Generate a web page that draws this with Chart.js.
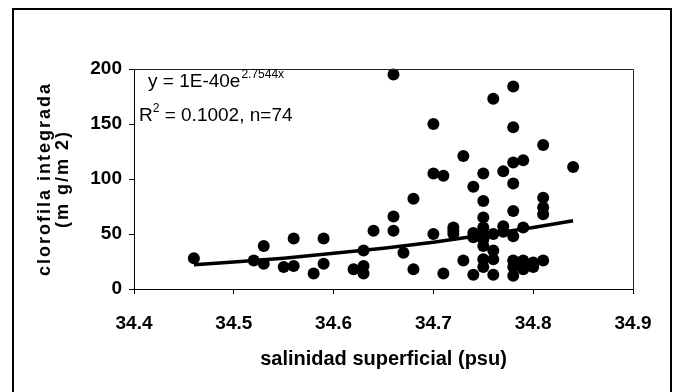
<!DOCTYPE html>
<html>
<head>
<meta charset="utf-8">
<script src="https://cdn.jsdelivr.net/npm/chart.js@4.4.1/dist/chart.umd.min.js"></script>
<style>
  html, body { margin: 0; padding: 0; background: #fff; }
  #wrap { position: relative; width: 673px; height: 392px; }
</style>
</head>
<body>
<div id="wrap"><canvas id="c" width="673" height="392"></canvas></div>
<script>
// ---- data ----
const salinity = [
  34.46, 34.52, 34.53, 34.53, 34.55, 34.56, 34.56, 34.58, 34.59, 34.59,
  34.62, 34.63, 34.63, 34.63, 34.64, 34.66, 34.66, 34.66, 34.67, 34.68,
  34.68, 34.70, 34.70, 34.70, 34.71, 34.71, 34.72, 34.72, 34.73, 34.73,
  34.74, 34.74, 34.74, 34.75, 34.75, 34.75, 34.75, 34.75, 34.75, 34.75,
  34.76, 34.76, 34.76, 34.76, 34.77, 34.77, 34.78, 34.78, 34.78, 34.78,
  34.78, 34.78, 34.78, 34.78, 34.79, 34.79, 34.79, 34.79, 34.80, 34.81,
  34.81, 34.81, 34.81, 34.81, 34.84, 34.75, 34.75, 34.76, 34.74, 34.72,
  34.77, 34.79, 34.80, 34.78
];
const chlorophyll = [
  28, 26, 39, 23, 20, 46, 21, 14, 46, 23,
  18, 35, 21, 14, 53, 195, 66, 53, 33, 82,
  18, 150, 105, 50, 103, 14, 56, 50, 121, 26,
  93, 51, 13, 105, 80, 65, 56, 39, 27, 20,
  173, 35, 27, 13, 107, 57, 184, 147, 115, 96,
  71, 48, 26, 12, 117, 56, 26, 18, 20, 131,
  83, 74, 68, 26, 111, 45, 50, 50, 47, 53,
  52, 22, 24, 20
];
// exponential trend line as it appears in the picture
const trendX = [34.46, 34.50, 34.55, 34.60, 34.65, 34.70, 34.75, 34.80, 34.84];
const trendY = [22, 24.5, 28, 32.5, 37, 42.5, 49, 56, 62];

const xTicks = [34.4, 34.5, 34.6, 34.7, 34.8, 34.9];
const xTickLabels = ['34.4', '34.5', '34.6', '34.7', '34.8', '34.9'];
const yTicks = [0, 50, 100, 150, 200];
const yTickLabels = ['0', '50', '100', '150', '200'];

const xTitle = 'salinidad superficial (psu)';
const yTitle = ['clorofila integrada', '(m g/m 2)'];
const eqMain = 'y = 1E-40e';
const eqExp = '2.7544x';
const r2Main = 'R';
const r2Sup = '2';
const r2Rest = ' = 0.1002, n=74';

const FONT = '"Liberation Sans", Arial, sans-serif';

const points = salinity.map((s, i) => ({ x: s, y: chlorophyll[i] }));
const trend = trendX.map((s, i) => ({ x: s, y: trendY[i] }));

const framePlugin = {
  id: 'frame',
  afterLayout(chart) {
    const ys = chart.scales.y;
    if (ys && !ys._lsPatched) {
      const orig = ys.drawTitle.bind(ys);
      ys.drawTitle = function () {
        const ctx = this.ctx;
        ctx.save();
        ctx.letterSpacing = '2px';
        orig();
        ctx.restore();
      };
      ys._lsPatched = true;
    }
  },
  afterDraw(chart) {
    const ctx = chart.ctx;
    const a = chart.chartArea;
    ctx.save();
    // plot box (top and right sides)
    ctx.strokeStyle = '#222';
    ctx.lineWidth = 1;
    ctx.beginPath();
    ctx.moveTo(a.left, a.top + 0.5);
    ctx.lineTo(a.right + 0.5, a.top + 0.5);
    ctx.lineTo(a.right + 0.5, a.bottom);
    ctx.stroke();
    // outer frame
    ctx.strokeStyle = '#000';
    ctx.lineWidth = 2;
    ctx.beginPath();
    ctx.moveTo(13, 400);
    ctx.lineTo(13, 9);
    ctx.lineTo(671, 9);
    ctx.lineTo(671, 400);
    ctx.stroke();
    // regression annotation
    ctx.fillStyle = '#000';
    ctx.textBaseline = 'alphabetic';
    ctx.textAlign = 'left';
    ctx.font = '19px ' + FONT;
    let x = 148, y = 87;
    ctx.fillText(eqMain, x, y);
    x += ctx.measureText(eqMain).width;
    ctx.font = '12px ' + FONT;
    ctx.fillText(eqExp, x + 1, y - 9);
    x = 139; y = 121;
    ctx.font = '19px ' + FONT;
    ctx.fillText(r2Main, x, y);
    x += ctx.measureText(r2Main).width;
    ctx.font = '12px ' + FONT;
    ctx.fillText(r2Sup, x, y - 9);
    x += ctx.measureText(r2Sup).width;
    ctx.font = '19px ' + FONT;
    ctx.fillText(r2Rest, x, y);
    ctx.restore();
  }
};

new Chart(document.getElementById('c'), {
  type: 'scatter',
  data: {
    datasets: [
      {
        data: points,
        backgroundColor: '#000',
        borderColor: '#000',
        pointRadius: 6,
        pointHoverRadius: 6,
        borderWidth: 0,
        clip: false
      },
      {
        data: trend,
        showLine: true,
        borderColor: '#000',
        borderWidth: 3.5,
        pointRadius: 0,
        tension: 0,
        fill: false
      }
    ]
  },
  options: {
    responsive: false,
    animation: false,
    events: [],
    layout: { padding: { left: 0, right: 40, top: 69, bottom: 0 } },
    plugins: { legend: { display: false }, tooltip: { enabled: false } },
    scales: {
      x: {
        type: 'linear',
        min: 34.4,
        max: 34.9,
        afterBuildTicks: (s) => { s.ticks = xTicks.map(v => ({ value: v })); },
        afterFit: (s) => { s.height = 103; },
        ticks: {
          callback: (v, i) => xTickLabels[i],
          color: '#000',
          font: { family: FONT, size: 19, weight: 'bold' },
          padding: 18,
          maxRotation: 0,
          autoSkip: false
        },
        grid: { drawOnChartArea: false, drawTicks: true, tickLength: 5, color: '#000' },
        border: { color: '#000', width: 1 },
        title: {
          display: true,
          text: xTitle,
          color: '#000',
          font: { family: FONT, size: 20, weight: 'bold' },
          padding: { top: 0, bottom: 21 }
        }
      },
      y: {
        type: 'linear',
        min: 0,
        max: 200,
        afterBuildTicks: (s) => { s.ticks = yTicks.map(v => ({ value: v })); },
        afterFit: (s) => { s.width = 134; },
        ticks: {
          callback: (v, i) => yTickLabels[i],
          color: '#000',
          font: { family: FONT, size: 19, weight: 'bold' },
          padding: 7
        },
        grid: { drawOnChartArea: false, drawTicks: true, tickLength: 5, color: '#000' },
        border: { color: '#000', width: 1 },
        title: {
          display: true,
          text: yTitle,
          color: '#000',
          font: { family: FONT, size: 18, weight: 'bold', lineHeight: 1.0 },
          padding: { top: 36, bottom: 0 }
        }
      }
    }
  },
  plugins: [framePlugin]
});
</script>
</body>
</html>
